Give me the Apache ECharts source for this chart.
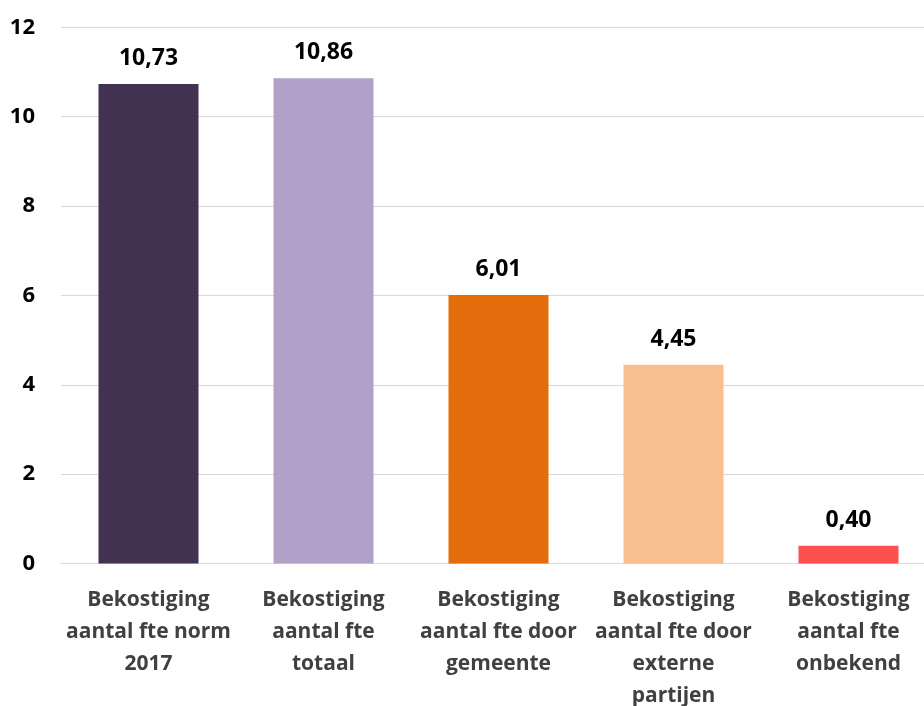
<!DOCTYPE html>
<html>
<head>
<meta charset="utf-8">
<script src="https://cdn.jsdelivr.net/npm/echarts@6/dist/echarts.min.js"></script>
<style>
html,body{margin:0;padding:0;background:#fff;overflow:hidden;}
#c{width:924px;height:706px;}
</style>
</head>
<body>
<div id="c"></div>
<script>
const categories = [
  "Bekostiging\naantal fte norm\n2017",
  "Bekostiging\naantal fte\ntotaal",
  "Bekostiging\naantal fte door\ngemeente",
  "Bekostiging\naantal fte door\nexterne\npartijen",
  "Bekostiging\naantal fte\nonbekend"
];
const values = [10.73, 10.86, 6.01, 4.45, 0.40];
const barColors = ["#433151", "#B1A0C7", "#E46C0A", "#F8C08E", "#FF5050"];

const fontFam = "'Open Sans', sans-serif";
const chart = echarts.init(document.getElementById('c'));
chart.setOption({
  animation: false,
  grid: { left: 61, right: -12, top: 27.3, bottom: 142.5, containLabel: false, outerBoundsMode: 'none' },
  xAxis: {
    type: 'category',
    data: categories,
    axisLine: { show: true, lineStyle: { color: '#D9D9D9', width: 1 } },
    axisTick: { show: false },
    axisLabel: {
      interval: 0, margin: 21, color: '#404040', fontWeight: 'bold',
      fontSize: 21, lineHeight: 32, fontFamily: fontFam
    }
  },
  yAxis: {
    type: 'value', min: 0, max: 12, interval: 2,
    axisLine: { show: false }, axisTick: { show: false },
    splitLine: { lineStyle: { color: '#D9D9D9', width: 1 } },
    axisLabel: { margin: 26, color: '#000', fontWeight: 'bold', fontSize: 22, fontFamily: fontFam }
  },
  series: [{
    type: 'bar',
    barWidth: 100,
    data: values.map((v, i) => ({ value: v, itemStyle: { color: barColors[i] } })),
    label: {
      show: true, position: 'top', distance: 14, color: '#000', fontWeight: 'bold',
      fontSize: 23, fontFamily: fontFam,
      formatter: p => p.value.toFixed(2).replace('.', ',')
    }
  }]
});
</script>
</body>
</html>
